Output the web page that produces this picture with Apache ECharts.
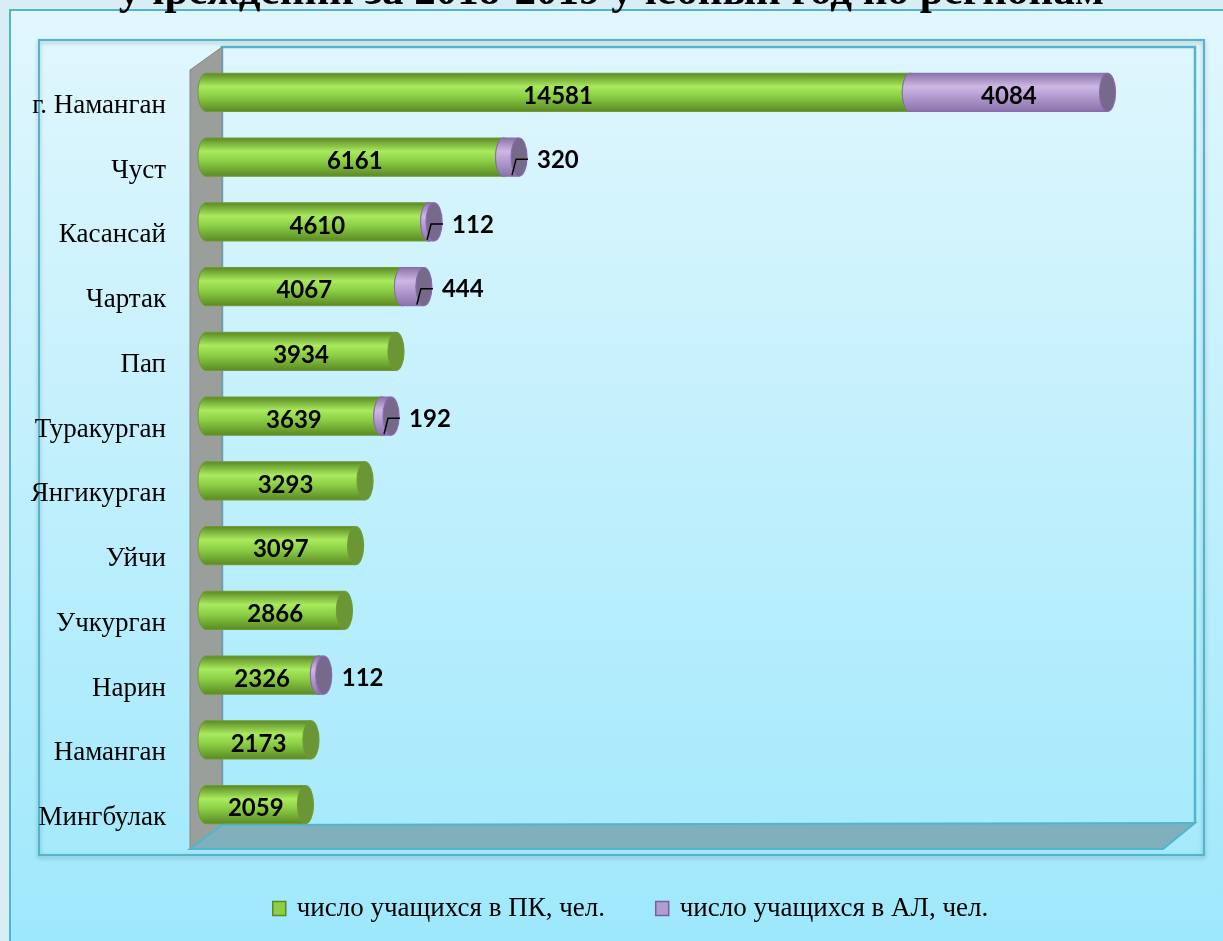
<!DOCTYPE html>
<html>
<head>
<meta charset="utf-8">
<script src="https://cdn.jsdelivr.net/npm/echarts@6/dist/echarts.min.js"></script>
<style>
  html, body { margin: 0; padding: 0; background: #d8eef4; }
  #chart { width: 1223px; height: 941px; }
</style>
</head>
<body>
<div id="chart"></div>
<script>
// regions, top to bottom
var regions = ['г. Наманган', 'Чуст', 'Касансай', 'Чартак', 'Пап', 'Туракурган',
	'Янгикурган', 'Уйчи', 'Учкурган', 'Нарин', 'Наманган', 'Мингбулак'];
var pkStudents = [14581, 6161, 4610, 4067, 3934, 3639, 3293, 3097, 2866, 2326, 2173, 2059];
var alStudents = [4084, 320, 112, 444, 0, 192, 0, 0, 0, 112, 0, 0];
var alLeader = [0, 1, 1, 1, 0, 1, 0, 0, 0, 0, 0, 0];	// labels moved out with leader line
var seriesNames = ['число учащихся в ПК, чел.', 'число учащихся в АЛ, чел.'];
var titleText = 'учреждений за 2018-2019 учебный год по регионам';

var green = { dark: '#5b8a24', light: '#a9ea5e', mid: '#8ccf45', cap: '#6b9635', edge: '#6f9a34' };
var purple = { dark: '#8a73a8', light: '#cdb8e4', mid: '#b39cd0', cap: '#76698a', edge: '#8a68b4' };

function grad(c){
	return new echarts.graphic.LinearGradient(0, 0, 0, 1, [
		{ offset: 0, color: c.dark }, { offset: 0.35, color: c.light },
		{ offset: 0.6, color: c.mid }, { offset: 1, color: c.dark }
	]);
}

// cylinder bar: body + left end + right cap + label
function cylinder(c){
	return function(params, api){
		var idx = api.value(2);
		var p0 = api.coord([api.value(0), idx]);
		var p1 = api.coord([api.value(1), idx]);
		var h = api.size([0, 1])[1] * 0.59;
		var cy = p0[1], rx = 8, val = api.value(1) - api.value(0);
		var kids = [
			{ type: 'ellipse', shape: { cx: p0[0], cy: cy, rx: rx, ry: h / 2 }, style: { fill: grad(c), stroke: c.edge, lineWidth: 1 } },
			{ type: 'rect', shape: { x: p0[0], y: cy - h / 2, width: p1[0] - p0[0], height: h }, style: { fill: grad(c) } },
			{ type: 'line', shape: { x1: p0[0], y1: cy - h / 2, x2: p1[0], y2: cy - h / 2 }, style: { stroke: c.edge, lineWidth: 1 } },
			{ type: 'line', shape: { x1: p0[0], y1: cy + h / 2, x2: p1[0], y2: cy + h / 2 }, style: { stroke: c.edge, lineWidth: 1 } },
			{ type: 'ellipse', shape: { cx: p1[0], cy: cy, rx: rx, ry: h / 2 }, style: { fill: c.cap, stroke: c.edge, lineWidth: 1.2 } }
		];
		var txt = { fill: '#000', fontFamily: 'Lato', fontWeight: 'bold', fontSize: 24, text: String(val) };
		if(p1[0] - p0[0] > 80){
			txt.x = (p0[0] + p1[0]) / 2; txt.y = cy + 4; txt.align = 'center'; txt.verticalAlign = 'middle';
		}else{
			txt.x = p1[0] + 18; txt.y = cy + 3; txt.align = 'left'; txt.verticalAlign = 'middle';
			if(api.value(3)){
				kids.push({ type: 'polyline', shape: { points: [[p1[0] - 7, cy + 18], [p1[0] - 3, cy + 2], [p1[0] + 9, cy + 2]] },
					style: { stroke: '#000', lineWidth: 1.5, fill: null } });
			}
		}
		kids.push({ type: 'text', style: txt });
		return { type: 'group', children: kids };
	};
}

var pkData = [], alData = [];
for(var i = 0; i < regions.length; i++){
	pkData.push([0, pkStudents[i], i, 0]);
	if(alStudents[i] > 0) alData.push([pkStudents[i], pkStudents[i] + alStudents[i], i, alLeader[i]]);
}

var bg = new echarts.graphic.LinearGradient(0, 0, 0, 1, [
	{ offset: 0, color: '#e2f7fd' }, { offset: 1, color: '#9de8fc' }
]);

var myChart = echarts.init(document.getElementById('chart'));
myChart.setOption({
	backgroundColor: '#d8eef4',
	animation: false,
	title: { text: titleText, left: 'center', top: -34,
		textStyle: { fontFamily: 'Liberation Serif', fontWeight: 'bold', fontSize: 43, color: '#000' } },
	graphic: [
		{ type: 'rect', z: -10, shape: { x: 10, y: 10, width: 1230, height: 950 }, style: { fill: bg, stroke: '#52b5cd', lineWidth: 2 } },
		{ type: 'rect', z: -9, shape: { x: 39, y: 40, width: 1165, height: 815 }, style: { fill: 'rgba(0,0,0,0)', stroke: '#52b5cd', lineWidth: 2, shadowColor: 'rgba(0,0,0,0.25)', shadowBlur: 4, shadowOffsetY: 2 } },
		{ type: 'polyline', z: -8, shape: { points: [[222, 825], [222, 47], [1195, 47], [1195, 823]] }, style: { stroke: '#52b5cd', lineWidth: 2.5, fill: null } },
		{ type: 'polygon', z: -8, shape: { points: [[190, 70], [222, 47], [222, 825], [190, 849]] }, style: { fill: '#9a9f9c', stroke: '#888', lineWidth: 1 } },
		{ type: 'polygon', z: -8, shape: { points: [[190, 849], [222, 825], [1195, 823], [1163, 849]] }, style: { fill: '#7fb0bb', stroke: '#52b5cd', lineWidth: 2 } }
	],
	legend: {
		top: 895, left: 272, padding: 0, itemGap: 50, itemWidth: 13, itemHeight: 14, icon: 'rect',
		textStyle: { fontFamily: 'Liberation Serif', fontSize: 27, color: '#000', padding: [0, 0, 0, 6] },
		data: [
			{ name: seriesNames[0], itemStyle: { color: '#8ccf45', borderColor: '#5b8a24', borderWidth: 1.5 } },
			{ name: seriesNames[1], itemStyle: { color: '#b39cd0', borderColor: '#7a5fa0', borderWidth: 1.5 } }
		]
	},
	grid: { left: 206, right: 51, top: 60, bottom: 104 },
	xAxis: { type: 'value', min: 0, max: 20000, show: false },
	yAxis: {
		type: 'category', data: regions, inverse: true,
		axisLine: { show: false }, axisTick: { show: false },
		axisLabel: { margin: 40, fontFamily: 'Liberation Serif', fontSize: 27, color: '#000', verticalAlign: 'top' }
	},
	series: [
		{ name: seriesNames[0], type: 'custom', renderItem: cylinder(green), data: pkData,
			encode: { x: [0, 1], y: 2 }, itemStyle: { color: '#8ccf45' } },
		{ name: seriesNames[1], type: 'custom', renderItem: cylinder(purple), data: alData,
			encode: { x: [0, 1], y: 2 }, itemStyle: { color: '#b39cd0' } }
	]
});
</script>
</body>
</html>
